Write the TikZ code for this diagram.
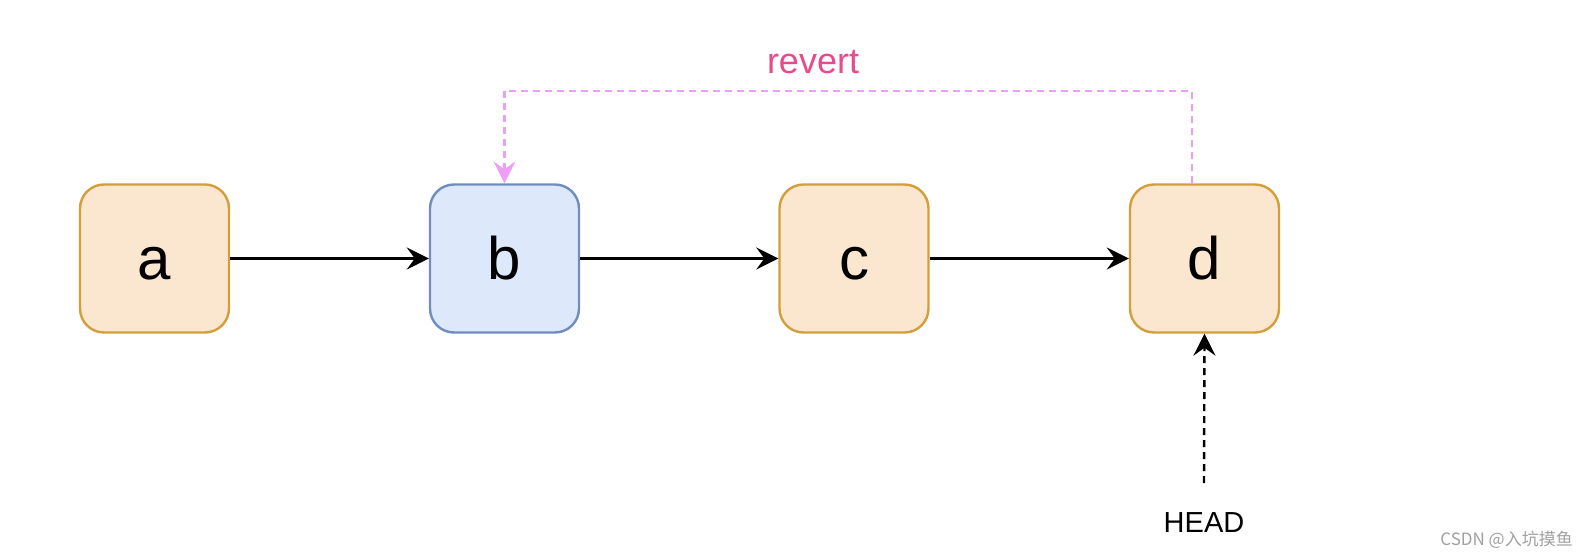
\documentclass[tikz,border=0pt]{standalone}
\usepackage{fontspec}
\setmainfont{Liberation Sans}
\newfontfamily\cjk{Noto Sans CJK SC}
\usetikzlibrary{arrows.meta}
\definecolor{orfill}{HTML}{FBE6D0}
\definecolor{ordraw}{HTML}{D39F3A}
\definecolor{blfill}{HTML}{DDE8FA}
\definecolor{bldraw}{HTML}{6F8DBF}
\definecolor{pinkline}{HTML}{EE9EF6}
\definecolor{pinktext}{HTML}{EA4A8C}
\definecolor{wmgray}{HTML}{A0A0A0}
\tikzset{
  box/.style={rounded corners=24pt, line width=2.4pt, minimum width=149pt, minimum height=148pt,
    inner sep=0pt, font=\fontsize{60}{72}\selectfont, text height=42pt, text depth=0pt},
  orbox/.style={box, draw=ordraw, fill=orfill},
  blbox/.style={box, draw=bldraw, fill=blfill},
  arr/.style={line width=2.4pt, -{Stealth[length=22pt, width=22pt, inset=8pt]}},
  revline/.style={draw=pinkline, line width=2.4pt, dash pattern=on 7pt off 5pt,
    -{Stealth[length=22pt, width=22pt, inset=8pt, fill=pinkline, line width=0pt]}},
  headline/.style={line width=2.4pt, dash pattern=on 7pt off 5pt,
    -{Stealth[length=22pt, width=22pt, inset=8pt]}},
}
\begin{document}
\begin{tikzpicture}[x=1pt, y=-1pt]
\useasboundingbox (0,0) rectangle (1589,556);
\node[orbox] (a) at (154.5,258.5) {a};
\node[blbox] (b) at (504.5,258.5) {b};
\node[orbox] (c) at (854,258.5) {c};
\node[orbox] (d) at (1204.5,258.5) {d};
\draw[arr] (a) -- (b);
\draw[arr] (b) -- (c);
\draw[arr] (c) -- (d);
\coordinate (turn) at (1192,91);
\draw[revline] ([xshift=-12.5pt]d.north) -- (turn) -| (b.north);
\node[anchor=base, text=pinktext, font=\fontsize{36}{43}\selectfont, inner sep=0pt] (rv) at (813,74) {revert};
\node[anchor=base, font=\fontsize{29}{35}\selectfont, inner sep=0pt] (head) at (1204,532) {HEAD};
\coordinate (hs) at (1204,483);
\draw[headline] (hs) -- (d.south);
\node[anchor=base east, text=wmgray, font=\cjk\fontsize{17}{20}\selectfont, inner sep=0pt] (wm) at (1573,545) {CSDN @入坑摸鱼};
\end{tikzpicture}
\end{document}
